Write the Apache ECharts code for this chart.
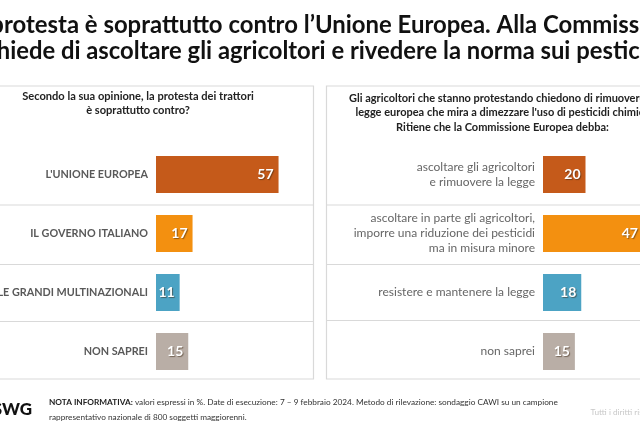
<!DOCTYPE html>
<html>
<head>
<meta charset="utf-8">
<script src="https://cdn.jsdelivr.net/npm/echarts@6/dist/echarts.min.js"></script>
<style>
	html, body { margin: 0; padding: 0; background: #fff; }
	#chart { width: 640px; height: 431px; }
</style>
</head>
<body>
<div id="chart"></div>
<script>
	// dati sinistra
	var leftCategories = ["L'UNIONE EUROPEA", 'IL GOVERNO ITALIANO', 'LE GRANDI MULTINAZIONALI', 'NON SAPREI'];
	var leftValues = [57, 17, 11, 15];
	// dati destra
	var rightCategories = ['ascoltare gli agricoltori\ne rimuovere la legge', 'ascoltare in parte gli agricoltori,\nimporre una riduzione dei pesticidi\nma in misura minore', 'resistere e mantenere la legge', 'non saprei'];
	var rightValues = [20, 47, 18, 15];
	var barColors = ['#C55A1A', '#F39010', '#4CA3C4', '#B9AEA6'];

	var titleLines = ['La protesta è soprattutto contro l’Unione Europea. Alla Commissione', 'si chiede di ascoltare gli agricoltori e rivedere la norma sui pesticidi'];
	var leftQuestion = ['Secondo la sua opinione, la protesta dei trattori', 'è soprattutto contro?'];
	var rightQuestion = ['Gli agricoltori che stanno protestando chiedono di rimuovere la', 'legge europea che mira a dimezzare l\'uso di pesticidi chimici.', 'Ritiene che la Commissione Europea debba:'];

	var FONT = 'Lato';
	var BORDER = '#D9D9D9';

	function barSeries(values, idx) {
		return {
			type: 'bar',
			xAxisIndex: idx,
			yAxisIndex: idx,
			barWidth: 37,
			silent: true,
			data: values.map(function (v, i) {
				return { value: v, itemStyle: { color: barColors[i] } };
			}),
			label: {
				show: true,
				position: 'insideRight',
				distance: 5,
				color: '#fff',
				fontFamily: FONT,
				fontWeight: 'bold',
				fontSize: 14,
				textShadowColor: 'rgba(60,40,20,0.55)',
				textShadowBlur: 1,
				textShadowOffsetX: 1,
				textShadowOffsetY: 1
			}
		};
	}

	function catAxis(data, idx, style) {
		return {
			type: 'category',
			gridIndex: idx,
			inverse: true,
			data: data,
			axisLine: { show: false },
			axisTick: { show: false },
			axisLabel: Object.assign({ margin: 8, fontFamily: FONT, interval: 0 }, style)
		};
	}

	function valAxis(idx) {
		return { type: 'value', gridIndex: idx, min: 0, max: 60, show: false, splitLine: { show: false } };
	}

	function txt(x, y, s, size, weight, color, align) {
		return {
			type: 'text',
			x: x,
			y: y,
			style: {
				text: s,
				fontFamily: FONT,
				fontSize: size,
				fontWeight: weight,
				fill: color,
				align: align || 'left',
				verticalAlign: 'middle'
			}
		};
	}

	function hline(x1, x2, y) {
		return { type: 'line', shape: { x1: x1, y1: y, x2: x2, y2: y }, style: { stroke: BORDER, lineWidth: 1 } };
	}

	var elements = [
		// riquadri
		{ type: 'rect', shape: { x: -10, y: 86, width: 323.5, height: 293 }, style: { fill: 'none', stroke: BORDER, lineWidth: 1.2 } },
		{ type: 'rect', shape: { x: 326.5, y: 86, width: 330, height: 293 }, style: { fill: 'none', stroke: BORDER, lineWidth: 1.2 } },
		hline(0, 313, 205), hline(0, 313, 264.5), hline(0, 313, 321.5),
		hline(327, 640, 205), hline(327, 640, 264.5), hline(327, 640, 320.5),
		// titolo
		txt(-40, 25, titleLines[0], 23.9, 'bold', '#111'),
		txt(-37, 51, titleLines[1], 23.8, 'bold', '#111'),
		// domande
		txt(138, 96, leftQuestion[0], 11.1, 'bold', '#222', 'center'),
		txt(138, 110, leftQuestion[1], 11.1, 'bold', '#222', 'center'),
		txt(349, 98, rightQuestion[0], 11, 'bold', '#222'),
		txt(355.5, 112, rightQuestion[1], 11, 'bold', '#222'),
		txt(502.5, 127, rightQuestion[2], 11, 'bold', '#222', 'center'),
		// piede
		txt(32, 410, 'SWG', 17, 900, '#111', 'right'),
		{
			type: 'text', x: 49, y: 402,
			style: {
				text: '{b|NOTA INFORMATIVA:} valori espressi in %. Date di esecuzione: 7 – 9 febbraio 2024. Metodo di rilevazione: sondaggio CAWI su un campione',
				fontFamily: FONT, fontSize: 8.25, fill: '#333', verticalAlign: 'middle',
				rich: { b: { fontFamily: FONT, fontSize: 8.25, fontWeight: 'bold', fill: '#222' } }
			}
		},
		txt(49, 417, 'rappresentativo nazionale di 800 soggetti maggiorenni.', 8.25, 'normal', '#333'),
		txt(590.5, 412, 'Tutti i diritti riservati', 8.25, 'normal', '#C8C8C8')
	];

	var chart = echarts.init(document.getElementById('chart'), null, { renderer: 'canvas' });
	chart.setOption({
		backgroundColor: '#fff',
		animation: false,
		grid: [
			{ left: 156, top: 145, width: 129, height: 236, outerBoundsMode: 'none' },
			{ left: 543, top: 145, width: 127.5, height: 236, outerBoundsMode: 'none' }
		],
		xAxis: [valAxis(0), valAxis(1)],
		yAxis: [
			catAxis(leftCategories, 0, { fontSize: 10.8, fontWeight: 'bold', color: '#595959' }),
			catAxis(rightCategories, 1, { fontSize: 12, color: '#666', lineHeight: 15 })
		],
		series: [barSeries(leftValues, 0), barSeries(rightValues, 1)],
		graphic: { elements: elements }
	});
</script>
</body>
</html>
